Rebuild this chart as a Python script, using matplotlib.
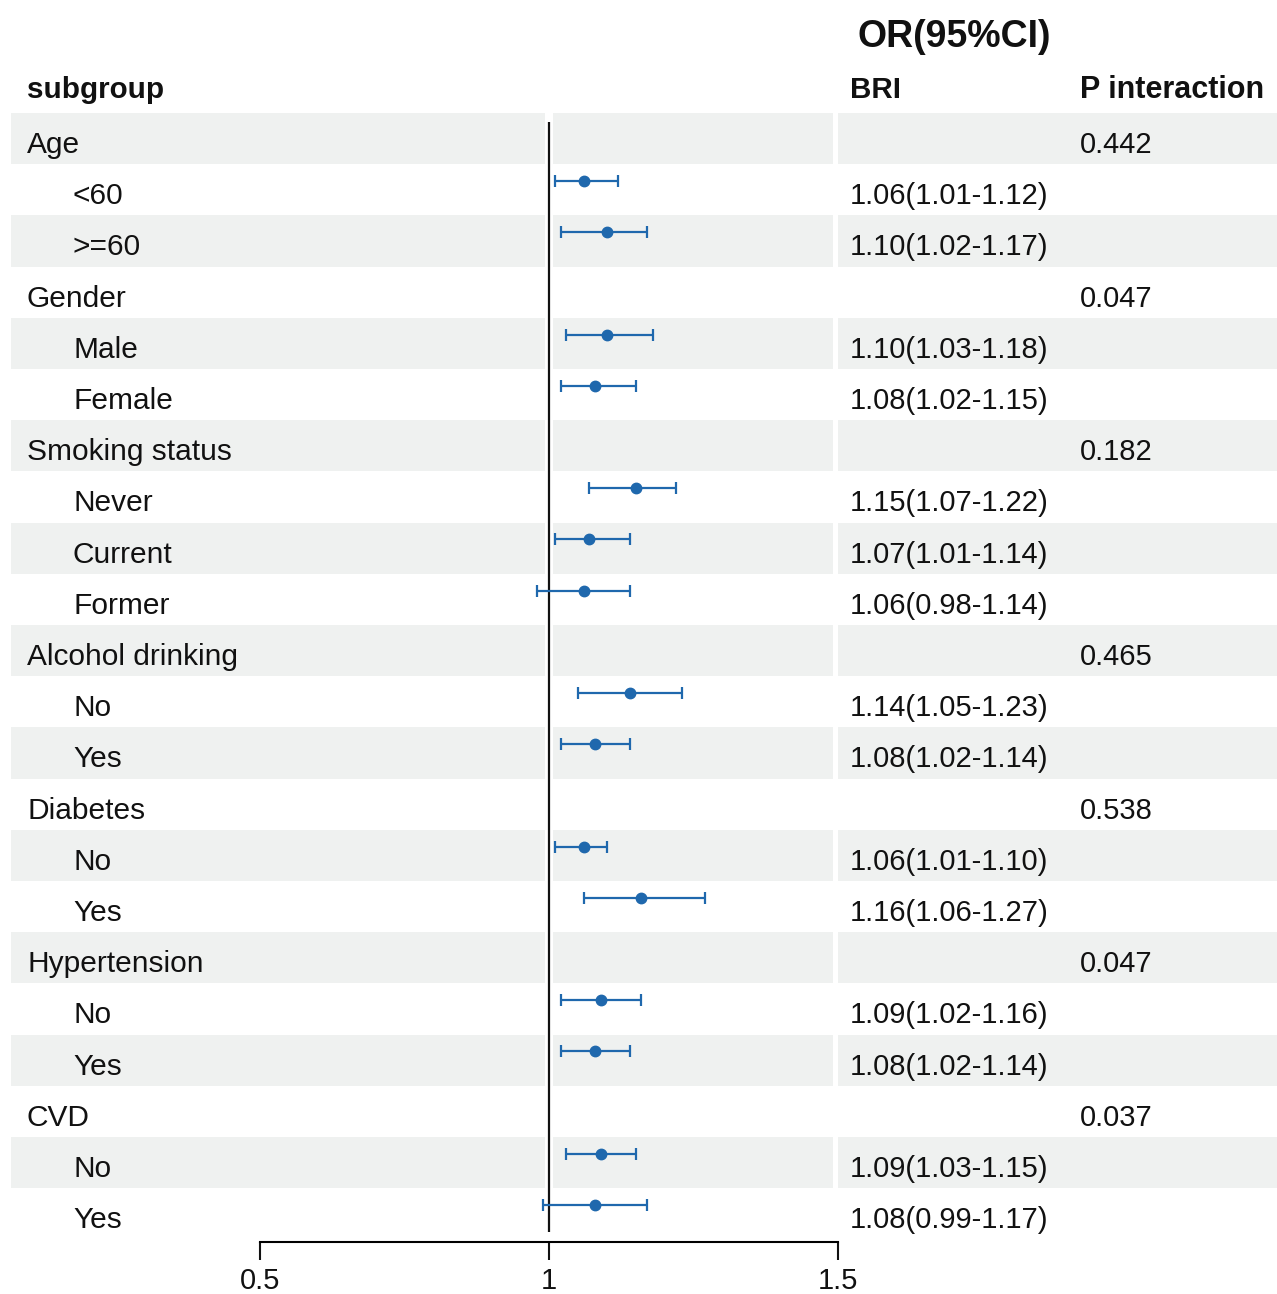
import matplotlib
matplotlib.use("Agg")
import matplotlib.pyplot as plt

plt.rcParams['font.family'] = ['Liberation Sans', 'DejaVu Sans']

# ---------------- data ----------------
labels = ["Age", "<60", ">=60",
          "Gender", "Male", "Female",
          "Smoking status", "Never", "Current", "Former",
          "Alcohol drinking", "No", "Yes",
          "Diabetes", "No", "Yes",
          "Hypertension", "No", "Yes",
          "CVD", "No", "Yes"]
is_group = [True, False, False,
            True, False, False,
            True, False, False, False,
            True, False, False,
            True, False, False,
            True, False, False,
            True, False, False]
p_interaction = ["0.442", "", "",
                 "0.047", "", "",
                 "0.182", "", "", "",
                 "0.465", "", "",
                 "0.538", "", "",
                 "0.047", "", "",
                 "0.037", "", ""]
OR = [None, 1.06, 1.10,
      None, 1.10, 1.08,
      None, 1.15, 1.07, 1.06,
      None, 1.14, 1.08,
      None, 1.06, 1.16,
      None, 1.09, 1.08,
      None, 1.09, 1.08]
lower = [None, 1.01, 1.02,
         None, 1.03, 1.02,
         None, 1.07, 1.01, 0.98,
         None, 1.05, 1.02,
         None, 1.01, 1.06,
         None, 1.02, 1.02,
         None, 1.03, 0.99]
upper = [None, 1.12, 1.17,
         None, 1.18, 1.15,
         None, 1.22, 1.14, 1.14,
         None, 1.23, 1.14,
         None, 1.10, 1.27,
         None, 1.16, 1.14,
         None, 1.15, 1.17]
xticks = [0.5, 1, 1.5]
xticklabels = ["0.5", "1", "1.5"]

# ---------------- layout ----------------
W, H = 1277, 1294
fig = plt.figure(figsize=(W / 100, H / 100), dpi=100)

row0 = 138.6     # pixel center of first row
pitch = 51.2     # pixel per row
def prow(py):
    return (py - row0) / pitch

n = len(labels)
rows = list(range(n))

# background / text axes in pixel x, row y
bg = fig.add_axes([0, 0, 1, 1])
bg.set_xlim(0, W)
bg.set_ylim(prow(H), prow(0))
bg.axis("off")

shade = "#eff1f0"
segments = [(11, 545), (553, 833), (838, W)]
for i in rows:
    if i % 2 == 0:
        for a, b in segments:
            bg.barh(i, b - a, left=a, height=1.0, color=shade, linewidth=0, zorder=0)

txt_color = "#111111"
fs_lab = 21.5
fs_num = 21
base_off = 0.28
for i, (lab, g) in enumerate(zip(labels, is_group)):
    x = 27 if g else 73
    bg.text(x, i + base_off, lab, fontsize=fs_lab, va="baseline", ha="left", color=txt_color)
    if OR[i] is not None:
        s = f"{OR[i]:.2f}({lower[i]:.2f}-{upper[i]:.2f})"
        bg.text(850, i + base_off, s, fontsize=fs_num, va="baseline", ha="left", color=txt_color)
    if p_interaction[i]:
        bg.text(1080, i + base_off, p_interaction[i], fontsize=fs_num, va="baseline", ha="left", color=txt_color)

# headers
bg.text(27, prow(98), "subgroup", fontsize=21.3, fontweight="bold", va="baseline", ha="left", color=txt_color)
bg.text(850, prow(98), "BRI", fontsize=21.3, fontweight="bold", va="baseline", ha="left", color=txt_color)
bg.text(1080, prow(98), "P interaction", fontsize=22, fontweight="bold", va="baseline", ha="left", color=txt_color)
bg.text(954, prow(47), "OR(95%CI)", fontsize=27, fontweight="bold", va="baseline", ha="center", color=txt_color)

# forest axes: x from 0.5 (px 260) to 1.5 (px 838); bottom spine at px 1242
x0, x1 = 260, 838
yb = 1242
ax = fig.add_axes([x0 / W, (H - yb) / H, (x1 - x0) / W, yb / H])
ax.set_xlim(0.5, 1.5)
ax.set_ylim(prow(yb), prow(0))
ax.patch.set_visible(False)
for sp in ["top", "right", "left"]:
    ax.spines[sp].set_visible(False)
ax.spines["bottom"].set_linewidth(1.5)
ax.set_yticks([])
ax.set_xticks(xticks)
ax.set_xticklabels(xticklabels, fontsize=21)
ax.tick_params(axis="x", direction="out", length=13, width=1.5, pad=5, colors="#111111")

# reference line
ax.vlines(1, prow(122), prow(1232), color="#111111", linewidth=1.6, zorder=2)

blue = "#1f68ad"
dot_off = -0.17
for i in rows:
    if OR[i] is None:
        continue
    y = i + dot_off
    ax.errorbar(OR[i], y, xerr=[[OR[i] - lower[i]], [upper[i] - OR[i]]],
                fmt="o", color=blue, ecolor=blue, elinewidth=1.6, capsize=4,
                capthick=1.6, markersize=7.5, zorder=3)

fig.savefig("out.png", dpi=100)
